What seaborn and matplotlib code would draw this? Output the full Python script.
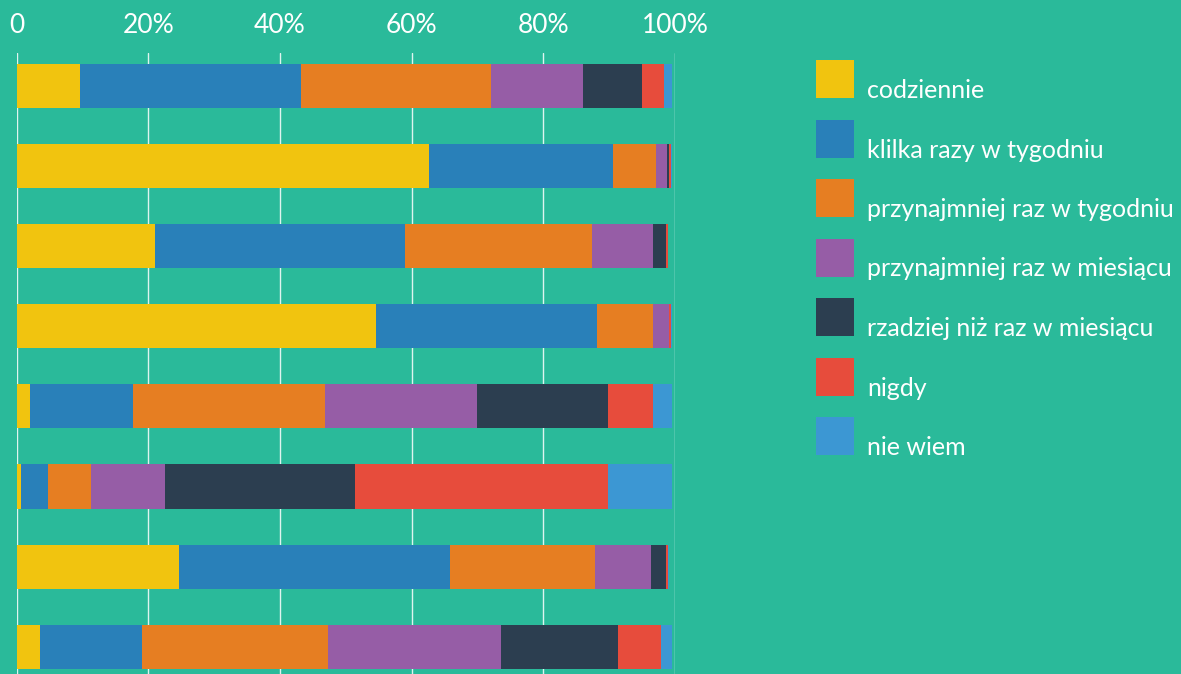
import seaborn as sns
import matplotlib.pyplot as plt
import matplotlib.patches as mpatches
import pandas as pd

# Data (percent of answers per row)
rows = ["1", "2", "3", "4", "5", "6", "7", "8"]
categories = ["codziennie", "klilka razy w tygodniu", "przynajmniej raz w tygodniu",
              "przynajmniej raz w miesiącu", "rzadziej niż raz w miesiącu", "nigdy", "nie wiem"]
codziennie = [9.6, 62.7, 21.0, 54.6, 2.0, 0.7, 24.7, 3.6]
kilka_razy = [33.6, 27.9, 38.0, 33.6, 15.7, 4.1, 41.2, 15.4]
raz_w_tygodniu = [28.8, 6.5, 28.4, 8.5, 29.1, 6.5, 21.9, 28.3]
raz_w_miesiacu = [14.1, 1.7, 9.3, 2.4, 23.1, 11.3, 8.5, 26.3]
rzadziej = [8.9, 0.3, 2.0, 0.0, 19.9, 28.8, 2.4, 17.8]
nigdy = [3.3, 0.3, 0.3, 0.3, 6.9, 38.4, 0.3, 6.5]
nie_wiem = [1.2, 0.1, 0.0, 0.1, 2.8, 9.7, 0.1, 1.6]
xticks = [0, 20, 40, 60, 80, 100]
xtick_labels = ["0", "20%", "40%", "60%", "80%", "100%"]

colors = ["#F1C40F", "#2980B9", "#E67E22", "#965DA6", "#2C3E50", "#E74C3C", "#3C97D3"]
bg = "#2ABA9A"

df = pd.DataFrame(dict(zip(categories, [codziennie, kilka_razy, raz_w_tygodniu, raz_w_miesiacu,
                                         rzadziej, nigdy, nie_wiem])), index=rows)
cum = df.cumsum(axis=1)

sns.set_theme(style="white", rc={"axes.facecolor": bg, "figure.facecolor": bg})
plt.rcParams['font.family'] = ['Lato', 'DejaVu Sans']

W, H = 1181, 674
fig = plt.figure(figsize=(W / 100, H / 100), dpi=100)
ax = fig.add_axes([16.5 / W, 0, (675 - 16.5) / W, (H - 53) / H])

# stacked bars: draw cumulative totals from the widest down
for cat, col in reversed(list(zip(categories, colors))):
    sns.barplot(x=cum[cat].values, y=rows, orient="h", color=col, saturation=1,
                width=0.55, linewidth=0, ax=ax)

ax.set_xlim(0, 100)
ax.set_ylim(7.34, -0.41)
ax.set_xticks(xticks)
ax.set_xticklabels(xtick_labels)
ax.xaxis.tick_top()
ax.tick_params(axis="x", length=0, pad=11, labelsize=19, labelcolor="white")
ax.set_yticks([])
ax.set_xlabel("")
ax.set_ylabel("")
ax.grid(axis="x", color="white", linewidth=1, alpha=0.85)
ax.set_axisbelow(True)
sns.despine(ax=ax, left=True, bottom=True, top=True, right=True)

# legend: squares with labels sitting on the square baseline
for i, (cat, col) in enumerate(zip(categories, colors)):
    top = 60 + 59.5 * i
    fig.patches.append(mpatches.Rectangle((816 / W, 1 - (top + 38) / H), 38 / W, 38 / H,
                                          transform=fig.transFigure, color=col, lw=0))
    fig.text(867 / W, 1 - (top + 38) / H, cat, color="white", fontsize=18, va="baseline")

plt.savefig("out.png", dpi=100, facecolor=bg)
